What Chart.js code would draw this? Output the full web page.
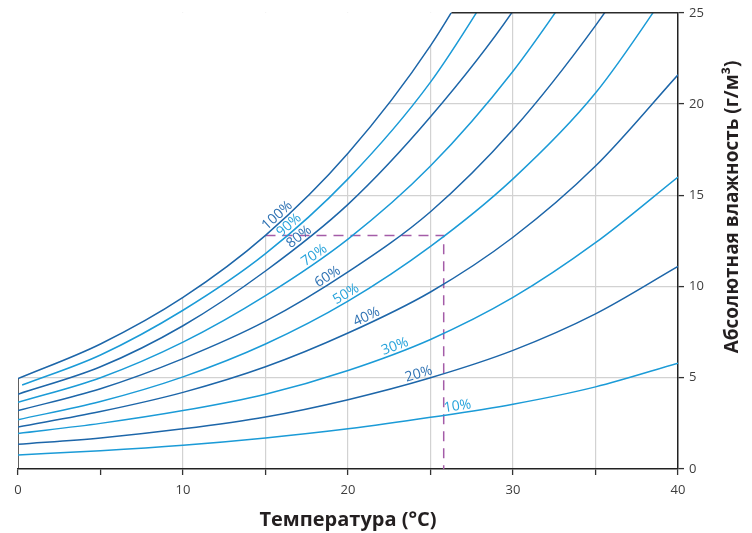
<!DOCTYPE html>
<html lang="ru">

<head>
    <meta charset="UTF-8">
    <title>Абсолютная влажность воздуха</title>
    <script src="https://cdn.jsdelivr.net/npm/chart.js"></script>
    <style>
        html, body { margin: 0; padding: 0; background: #fff; }
    </style>
</head>

<body>
    <canvas id="grafica" width="752" height="533"></canvas>

    <script>
        // Температура, °C
        const temperaturas = [0, 5, 10, 15, 20, 25, 30, 35, 40];
        const temperaturas90 = [0.25, 5, 10, 15, 20, 25, 30];

        // Абсолютная влажность, г/м³ (по кривым относительной влажности)
        const h100 = [4.95, 6.85, 9.4, 12.8, 17.3, 23.2, 30.8];
        const h90 = [4.6, 6.25, 8.7, 11.8, 15.9, 21.2, 28.2];
        const h80 = [4.1, 5.6, 7.85, 10.85, 14.5, 19.3, 25.1, 32.5];
        const h70 = [3.65, 5.0, 6.95, 9.5, 12.6, 16.6, 21.8, 28.2];
        const h60 = [3.2, 4.4, 6.05, 8.1, 10.8, 14.1, 18.6, 24.3, 31.0];
        const h50 = [2.7, 3.7, 5.05, 6.85, 9.2, 12.2, 15.9, 20.6, 27.0];
        const h40 = [2.3, 3.15, 4.2, 5.6, 7.45, 9.7, 12.7, 16.6, 21.6];
        const h30 = [1.95, 2.5, 3.2, 4.1, 5.4, 7.1, 9.4, 12.4, 16.0];
        const h20 = [1.35, 1.7, 2.2, 2.85, 3.8, 5.0, 6.5, 8.5, 11.1];
        const h10 = [0.77, 1.0, 1.3, 1.7, 2.2, 2.83, 3.55, 4.5, 5.8];

        const etiquetas = ['100%', '90%', '80%', '70%', '60%', '50%', '40%', '30%', '20%', '10%'];
        // temperatura donde va cada rótulo
        const posEtiquetas = [16.0, 16.7, 17.3, 18.2, 19.0, 20.1, 21.3, 23.0, 24.4, 26.7];

        // punto de rocío: 26 °C -> 12.8 г/м³ -> 15 °C
        const rocioT = [15, 25.8, 25.8];
        const rocioH = [12.8, 12.8, 0];

        const azul = '#1d66a9';
        const celeste = '#1b9bd7';
        const azulTexto = '#2f72b3';
        const celesteTexto = '#26a3db';

        const series = [h100, h90, h80, h70, h60, h50, h40, h30, h20, h10];
        const FUENTE = '"Open Sans", sans-serif';
        Chart.defaults.font.family = FUENTE;

        const datasets = series.map((vals, i) => ({
            label: etiquetas[i],
            data: vals.map((v, j) => ({ x: (i === 1 ? temperaturas90 : temperaturas)[j], y: v })),
            borderColor: i % 2 === 0 ? azul : celeste,
            borderWidth: 1.5,
            pointRadius: 0,
            cubicInterpolationMode: 'monotone',
            fill: i === 0 ? 'end' : false,
            backgroundColor: '#ffffff'
        }));

        // borde izquierdo hasta la curva de saturación
        datasets.push({
            label: 'borde',
            data: [{ x: 0, y: 0 }, { x: 0, y: h100[0] }],
            borderColor: '#2b2b2b',
            borderWidth: 1.5,
            pointRadius: 0,
            fill: false
        });

        datasets.push({
            label: 'rocío',
            data: rocioT.map((t, j) => ({ x: t, y: rocioH[j] })),
            borderColor: '#a45ca8',
            borderWidth: 1.5,
            borderDash: [10, 7],
            pointRadius: 0,
            tension: 0,
            fill: false
        });

        // rótulos de % sobre cada curva
        const rotulos = {
            id: 'rotulos',
            afterDatasetsDraw(chart) {
                const { ctx, scales: { x } } = chart;
                etiquetas.forEach((txt, i) => {
                    const linea = chart.getDatasetMeta(i).dataset;
                    const px = x.getPixelForValue(posEtiquetas[i]);
                    const a = linea.interpolate({ x: px - 6 }, 'x');
                    const b = linea.interpolate({ x: px + 6 }, 'x');
                    const c = linea.interpolate({ x: px }, 'x');
                    if (!a || !b || !c) return;
                    const ang = Math.atan2(b.y - a.y, b.x - a.x);
                    ctx.save();
                    ctx.translate(c.x, c.y);
                    ctx.rotate(ang);
                    ctx.font = '14px ' + FUENTE;
                    ctx.fillStyle = i % 2 === 0 ? azulTexto : celesteTexto;
                    ctx.textAlign = 'center';
                    ctx.textBaseline = 'alphabetic';
                    ctx.fillText(txt, 0, -3);
                    ctx.restore();
                });
            }
        };

        // marco superior (solo bajo la curva de 100%) y título del eje Y
        const marco = {
            id: 'marco',
            afterDatasetsDraw(chart) {
                const { ctx, chartArea } = chart;
                const linea = chart.getDatasetMeta(0).dataset;
                let inicio = chartArea.left;
                for (let px = chartArea.left; px < chartArea.right; px += 0.5) {
                    const p = linea.interpolate({ x: px }, 'x');
                    if (!p || p.y <= chartArea.top) { inicio = px; break; }
                }
                ctx.save();
                ctx.strokeStyle = '#2b2b2b';
                ctx.lineWidth = 1.5;
                ctx.beginPath();
                ctx.moveTo(inicio, chartArea.top);
                ctx.lineTo(chartArea.right, chartArea.top);
                ctx.stroke();
                ctx.restore();
            },
            afterDraw(chart) {
                const { ctx } = chart;
                ctx.save();
                ctx.translate(733, 207);
                ctx.rotate(-Math.PI / 2);
                ctx.font = 'bold 19px ' + FUENTE;
                ctx.fillStyle = '#231f20';
                ctx.textAlign = 'center';
                ctx.textBaseline = 'middle';
                ctx.fillText('Абсолютная влажность (г/м³)', 0, 0);
                ctx.restore();
            }
        };

        const transparente = 'rgba(0,0,0,0)';
        const gris = '#d2d2d2';

        new Chart(document.getElementById('grafica'), {
            type: 'line',
            data: { datasets },
            options: {
                responsive: false,
                animation: false,
                layout: { padding: { left: 18, top: 12, right: 0, bottom: 0 } },
                plugins: {
                    legend: { display: false },
                    tooltip: { enabled: false }
                },
                scales: {
                    x: {
                        type: 'linear',
                        min: 0,
                        max: 40,
                        ticks: {
                            stepSize: 5,
                            autoSkip: false,
                            maxRotation: 0,
                            padding: 7,
                            color: '#3d3d3d',
                            font: { size: 13 },
                            callback: v => (v % 10 === 0 ? v : '')
                        },
                        grid: {
                            color: c => ([0, 5, 40].includes(c.tick && c.tick.value) ? transparente : gris),
                            lineWidth: 1.2,
                            tickLength: 6,
                            tickColor: '#333',
                            tickWidth: 1.3
                        },
                        border: { color: '#222', width: 1.5 },
                        title: {
                            display: true,
                            text: 'Температура (°C)',
                            color: '#231f20',
                            font: { size: 20, weight: 'bold' },
                            padding: { top: 0, bottom: 1 }
                        },
                        afterFit: s => { s.height = 64; }
                    },
                    y: {
                        type: 'linear',
                        position: 'right',
                        min: 0,
                        max: 25,
                        ticks: {
                            stepSize: 5,
                            padding: 5,
                            color: '#3d3d3d',
                            font: { size: 13 }
                        },
                        grid: {
                            color: c => ([0, 25].includes(c.tick && c.tick.value) ? transparente : gris),
                            lineWidth: 1.2,
                            tickLength: 6,
                            tickColor: '#333',
                            tickWidth: 1.3
                        },
                        border: { color: '#222', width: 1.5 },
                        afterFit: s => { s.width = 74; }
                    }
                }
            },
            plugins: [rotulos, marco]
        });
    </script>
</body>

</html>
